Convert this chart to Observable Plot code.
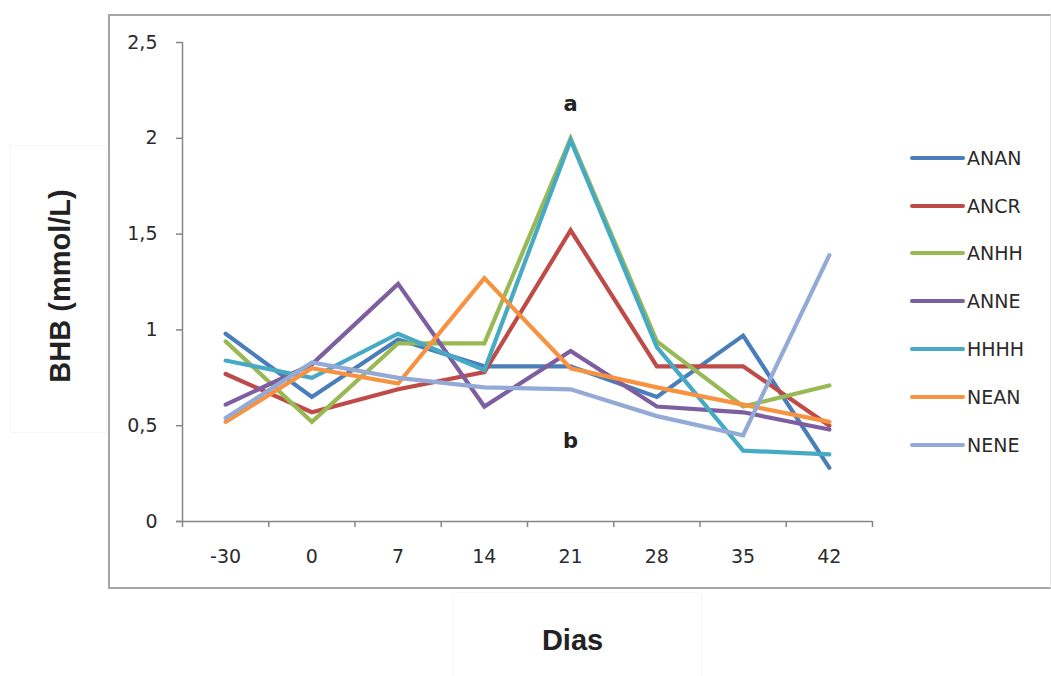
<!DOCTYPE html>
<html>
<head>
<meta charset="utf-8">
<script src="https://cdn.jsdelivr.net/npm/d3@7"></script>
<script src="https://cdn.jsdelivr.net/npm/@observablehq/plot@0.6"></script>
<style>
  html, body { margin: 0; padding: 0; background: #fff; }
  #wrap { position: relative; width: 1051px; height: 676px; overflow: hidden; background: #fff; }
  .box { position: absolute; box-sizing: border-box; }
  #legend { position: absolute; left: 910px; top: 134px; font-family: "DejaVu Sans", sans-serif; font-size: 19px; color: #2b2b2b; }
  .row { display: flex; align-items: center; height: 47.8px; }
  .sw { width: 55px; height: 4px; border-radius: 2px; margin-right: 2px; }
</style>
</head>
<body>
<div id="wrap">
  <div class="box" style="left:108px;top:14px;width:943px;height:575px;border:2px solid #a6a6a6;border-right:1px solid #e4e4e4;"></div>
  <div class="box" style="left:10px;top:145px;width:97px;height:288px;border:1px solid #f7f7f7;"></div>
  <div class="box" style="left:452px;top:592px;width:250px;height:90px;border:1px solid #f7f7f7;"></div>
  <div id="chart" style="position:absolute;left:0;top:0;"></div>
  <div id="legend"></div>
</div>
<script>
// Categories (days)
const days = ["-30", "0", "7", "14", "21", "28", "35", "42"];
// Series names
const seriesNames = ["ANAN", "ANCR", "ANHH", "ANNE", "HHHH", "NEAN", "NENE"];
const seriesColors = ["#4A7EBB", "#BE4B48", "#98B954", "#7D5FA0", "#46AAC5", "#F69240", "#93AAD6"];
// Values per series (BHB mmol/L)
const ANAN = [0.98, 0.65, 0.95, 0.81, 0.81, 0.65, 0.97, 0.28];
const ANCR = [0.77, 0.57, 0.69, 0.78, 1.52, 0.81, 0.81, 0.50];
const ANHH = [0.94, 0.52, 0.93, 0.93, 2.00, 0.94, 0.60, 0.71];
const ANNE = [0.61, 0.82, 1.24, 0.60, 0.89, 0.60, 0.57, 0.48];
const HHHH = [0.84, 0.75, 0.98, 0.79, 1.99, 0.91, 0.37, 0.35];
const NEAN = [0.52, 0.80, 0.72, 1.27, 0.80, 0.70, 0.61, 0.52];
const NENE = [0.54, 0.83, 0.75, 0.70, 0.69, 0.55, 0.45, 1.39];
// Y tick values
const yTicks = [0, 0.5, 1, 1.5, 2, 2.5];
// Annotations
const notes = [{day: "21", value: 2.18, label: "a"}, {day: "21", value: 0.42, label: "b"}];

const valuesBySeries = [ANAN, ANCR, ANHH, ANNE, HHHH, NEAN, NENE];
const data = [];
seriesNames.forEach((s, k) => {
  valuesBySeries[k].forEach((v, i) => data.push({series: s, i, day: days[i], value: v}));
});
const idx = days.map((d, i) => i);
const bounds = d3.range(days.length + 1).map(i => i - 0.5);
const noteData = notes.map(n => ({...n, i: days.indexOf(n.day)}));

const chart = Plot.plot({
  width: 1051,
  height: 676,
  marginLeft: 182,
  marginRight: 179,
  marginTop: 42,
  marginBottom: 155,
  style: {fontFamily: "DejaVu Sans, sans-serif", fontSize: "19px", background: "transparent", color: "#2b2b2b"},
  x: {domain: [-0.5, days.length - 0.5], axis: null},
  y: {domain: [0, 2.5], axis: null},
  color: {domain: seriesNames, range: seriesColors},
  marks: [
    Plot.axisY({ticks: yTicks, tickSize: 6, tickPadding: 19, tickFormat: d => String(d).replace(".", ","), stroke: "#868686", strokeWidth: 1.5, label: null, fill: "#2b2b2b"}),
    Plot.axisX({ticks: bounds, tickSize: 6, tickFormat: () => "", stroke: "#868686", strokeWidth: 1.5, label: null}),
    Plot.axisX({ticks: idx, tickSize: 0, tickPadding: 28, tickFormat: i => days[i], label: null, fill: "#2b2b2b"}),
    Plot.ruleX([-0.5], {stroke: "#868686", strokeWidth: 1.5}),
    Plot.ruleY([0], {stroke: "#868686", strokeWidth: 1.5, x1: -0.57, x2: days.length - 0.5}),
    Plot.line(data, {x: "i", y: "value", z: "series", stroke: "series", strokeWidth: 4.2, strokeLinejoin: "miter", strokeMiterlimit: 3}),
    Plot.text(noteData, {x: "i", y: "value", text: "label", fontSize: 21, fontWeight: "bold", fill: "#222", fontFamily: "DejaVu Sans, sans-serif"}),
    Plot.text(["BHB (mmol/L)"], {frameAnchor: "left", dx: -122, dy: 4, rotate: -90, textAnchor: "middle", lineAnchor: "middle", fontSize: 29, fontWeight: "bold", fill: "#222", fontFamily: "Liberation Sans, Arial, sans-serif"}),
    Plot.text(["Dias"], {frameAnchor: "bottom", dx: 45, dy: 119, textAnchor: "middle", lineAnchor: "middle", fontSize: 29, fontWeight: "bold", fill: "#222", fontFamily: "Liberation Sans, Arial, sans-serif"})
  ]
});
document.getElementById("chart").appendChild(chart);

const legend = document.getElementById("legend");
seriesNames.forEach((s, k) => {
  const row = document.createElement("div");
  row.className = "row";
  const sw = document.createElement("div");
  sw.className = "sw";
  sw.style.background = seriesColors[k];
  const t = document.createElement("span");
  t.textContent = s;
  row.appendChild(sw);
  row.appendChild(t);
  legend.appendChild(row);
});
</script>
</body>
</html>
